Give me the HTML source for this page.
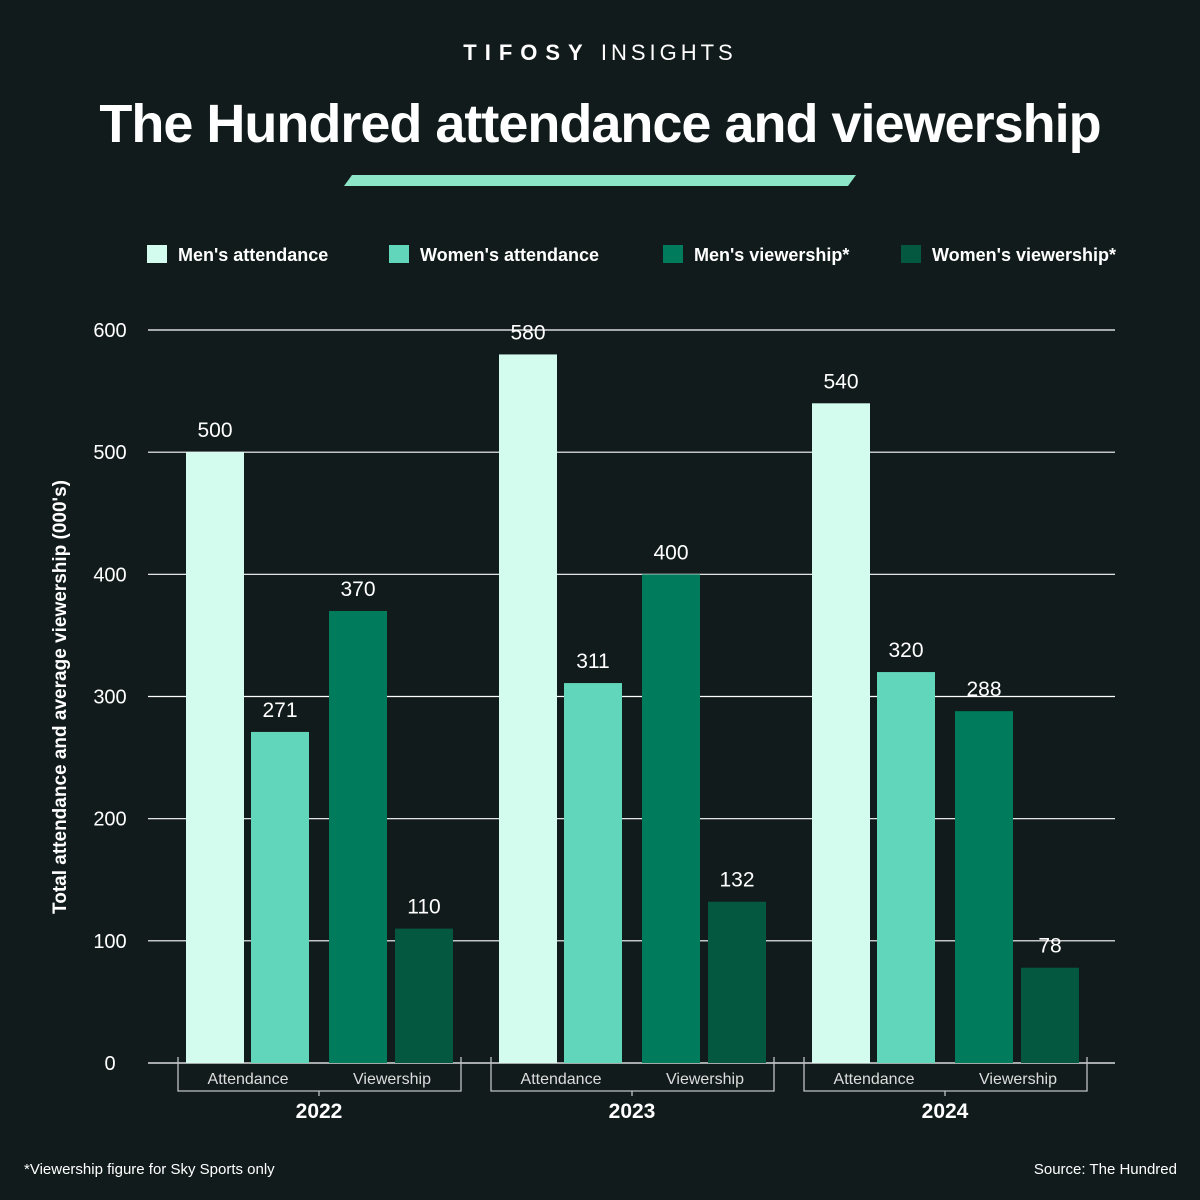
<!DOCTYPE html>
<html><head><meta charset="utf-8"><style>
html,body{margin:0;padding:0;background:#121b1c;}
svg{display:block;font-family:"Liberation Sans",sans-serif;}
</style></head><body>
<svg width="1200" height="1200" viewBox="0 0 1200 1200">
<rect width="1200" height="1200" fill="#121b1c"/>
<text x="600" y="60" text-anchor="middle" fill="#ffffff" font-size="22" letter-spacing="4"><tspan font-weight="bold" letter-spacing="8">TIFOSY</tspan> INSIGHTS</text>
<text x="600" y="142" text-anchor="middle" fill="#ffffff" font-size="54" font-weight="bold" letter-spacing="-1">The Hundred attendance and viewership</text>
<polygon points="352,175 856,175 848,186 344,186" fill="#8de6c8"/>
<g id="legend"></g>
<g id="grid"></g>
<g id="bars"></g>
<g id="labels"></g>
<text transform="translate(66,697) rotate(-90)" text-anchor="middle" fill="#ffffff" font-size="19" font-weight="bold">Total attendance and average viewership (000's)</text>
<text x="24" y="1174" fill="#ffffff" font-size="15">*Viewership figure for Sky Sports only</text>
<text x="1177" y="1174" text-anchor="end" fill="#ffffff" font-size="15">Source: The Hundred</text>
</svg>
<script>
const years = ["2022","2023","2024"];
const seriesNames = ["Men's attendance","Women's attendance","Men's viewership*","Women's viewership*"];
const mensAttendance = [500,580,540];
const womensAttendance = [271,311,320];
const mensViewership = [370,400,288];
const womensViewership = [110,132,78];
const yTicks = [0,100,200,300,400,500,600];

const colors = ["#d3fbee","#62d6ba","#007c5c","#03583f"];
const NS = "http://www.w3.org/2000/svg";
function mk(tag, attrs, parent, text){
  const e=document.createElementNS(NS,tag);
  for(const k in attrs) e.setAttribute(k,attrs[k]);
  if(text!==undefined) e.textContent=text;
  parent.appendChild(e); return e;
}
const y0=1063, yScale=(1063-330)/600;
function yPos(v){return y0 - v*yScale;}
function groupX(i){return 186 + i*313;}
const offsets=[0,65,143,209], bw=58;

const grid=document.getElementById('grid');
yTicks.forEach(t=>{
  const l=mk('line',{x1:148,x2:1115,y1:yPos(t),y2:yPos(t),stroke:'#ffffff','stroke-width':1.2},grid);
  
  
  const tx=mk('text',{x:110,y:yPos(t)+7,'text-anchor':'middle',fill:'#fff','font-size':20},grid,String(t));
  
  
});

const bars=document.getElementById('bars'), labels=document.getElementById('labels');
const series=[mensAttendance,womensAttendance,mensViewership,womensViewership];
years.forEach((yr,i)=>{
  series.forEach((s,j)=>{
    const x=groupX(i)+offsets[j], v=s[i];
    const r=mk('rect',{x:x,y:yPos(v),width:bw,height:y0-yPos(v),fill:colors[j]},bars);
    
    
    const t=mk('text',{x:x+bw/2,y:yPos(v)-15,'text-anchor':'middle',fill:'#fff','font-size':21},labels,String(v));
    
    
  });
  const gx=groupX(i);
  const br=mk('path',{d:`M${gx-8},1057 V1091 H${gx+275} V1057 M${gx+133},1091 V1096`,fill:'none',stroke:'#bfc4c4','stroke-width':1.3},labels);
  
  
  const a=mk('text',{x:gx+62,y:1084,'text-anchor':'middle',fill:'#ddd','font-size':16},labels,'Attendance');
  
  
  const v=mk('text',{x:gx+206,y:1084,'text-anchor':'middle',fill:'#ddd','font-size':16},labels,'Viewership');
  
  
  const y=mk('text',{x:gx+133,y:1118,'text-anchor':'middle',fill:'#fff','font-size':21,'font-weight':'bold'},labels,yr);
  
  
});

const legend=document.getElementById('legend');
const lx=[147,389,663,901];
seriesNames.forEach((n,j)=>{
  const r=mk('rect',{x:lx[j],y:245,width:20,height:18,fill:colors[j]},legend);
  
  
  const t=mk('text',{x:lx[j]+31,y:261,fill:'#fff','font-size':18,'font-weight':'bold'},legend,n);
  
  
});
</script>
</body></html>
